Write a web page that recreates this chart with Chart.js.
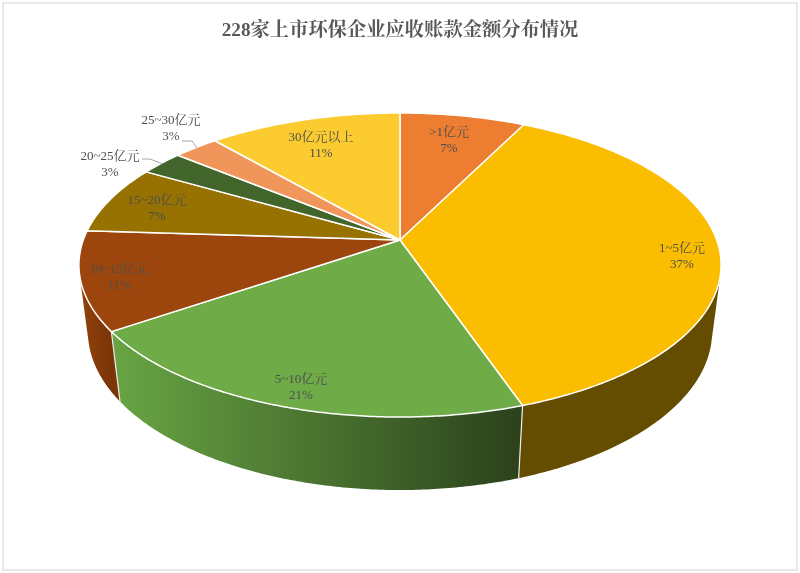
<!DOCTYPE html>
<html><head><meta charset="utf-8">
<style>html,body{margin:0;padding:0;background:#fff}canvas{display:block;filter:blur(0.45px)}</style>
<script src="https://cdn.jsdelivr.net/npm/chart.js@4"></script></head>
<body><canvas id="c" width="800" height="573"></canvas>
<script>
const chartTitle = '228家上市环保企业应收账款金额分布情况';
const categories = ['>1亿元','1~5亿元','5~10亿元','10~15亿元','15~20亿元','20~25亿元','25~30亿元','30亿元以上'];
const shares = [7.4,37.3,20.8,10.5,7.3,2.6,2.7,11.4];
const topColors = ['#ED7D31','#FBBD00','#6FAB46','#9C460D','#977200','#41652A','#F0965A','#FCCB30'];
const wallFrom = ['#8E4B1D','#644C00','#2B411B','#7B3507','#5C4500','#28401A','#90593A','#99791C'];
const wallTo   = ['#8E4B1D','#644C00','#68A544','#8C3F0B','#5C4500','#28401A','#90593A','#99791C'];
const labelFont = "13px 'Liberation Serif','Noto Serif CJK SC','Noto Sans CJK SC'";
const labelColor = '#4E4E4E';
// text placement (pixels) : [x, y of the first line]
const labelPlace = [[449,133],[682,249],[301,380],[119,270],[157,201],[110,157],[171,121],[321,138]];
const leaders = {5:[[142,159],[150,159],[163,164]],6:[[182,141],[192,141],[197,148]]};

// projection of the disk (perspective view of a round slab)
const view = {cx:400,cy:240,a:316.7,b:147.9,p:0.1645,q:0.028,c:68};
function project(angle,low){
  const u=Math.cos(angle),v=Math.sin(angle);
  const w=1-view.p*v+(low?view.q:0);
  return [view.cx+view.a*u/w, view.cy+(view.b*v+(low?view.c:0))/w];
}
function rim(ctx,s,e){
  const n=Math.max(2,Math.ceil(Math.abs(e-s)/0.01));
  for(let i=0;i<=n;i++){
    const P=project(s+(e-s)*i/n,false);
    ctx.lineTo(P[0],P[1]);
  }
}
function wallPath(ctx,s,e){
  const n=Math.max(2,Math.ceil(Math.abs(e-s)/0.01));
  for(let i=0;i<n;i++){
    const a0=s+(e-s)*i/n,a1=s+(e-s)*(i+1)/n;
    const q=[project(a0,false),project(a1,false),project(a1,true),project(a0,true)];
    let area=0;
    q.forEach((p,k)=>{const r=q[(k+1)%4];area+=p[0]*r[1]-r[0]*p[1];});
    if(area<0)q.reverse();
    q.forEach((p,k)=>k?ctx.lineTo(p[0],p[1]):ctx.moveTo(p[0],p[1]));
    ctx.closePath();
  }
}
Chart.ArcElement.prototype.draw=function(ctx){
  const o=this.options;
  ctx.save();
  ctx.beginPath();
  ctx.moveTo(view.cx,view.cy);
  rim(ctx,this.startAngle,this.endAngle);
  ctx.closePath();
  ctx.fillStyle=o.backgroundColor;
  ctx.fill();
  ctx.lineJoin='round';
  ctx.lineWidth=o.borderWidth;
  ctx.strokeStyle=o.borderColor;
  ctx.stroke();
  ctx.restore();
};
const slab={
  id:'slab',
  beforeDraw(chart){
    const ctx=chart.ctx;
    ctx.save();
    ctx.fillStyle='#fff';ctx.fillRect(0,0,chart.width,chart.height);
    ctx.strokeStyle='#E8E8E8';ctx.lineWidth=2;
    ctx.strokeRect(3,3,chart.width-6,chart.height-6);
    ctx.restore();
  },
  beforeDatasetsDraw(chart){
    const ctx=chart.ctx,arcs=chart.getDatasetMeta(0).data;
    ctx.save();
    arcs.forEach((arc,i)=>{
      const s=arc.startAngle,e=arc.endAngle;
      if(Math.sin(s)<-0.3&&Math.sin(e)<-0.3)return;
      const A=project(s,false),B=project(e,false);
      const g=ctx.createLinearGradient(A[0],0,B[0],0);
      g.addColorStop(0,wallFrom[i]);
      g.addColorStop(1,wallTo[i]);
      ctx.beginPath();
      wallPath(ctx,s,e);
      ctx.fillStyle=g;ctx.fill();
    });
    ctx.strokeStyle='#EDEDED';ctx.lineWidth=1.2;
    arcs.forEach(arc=>{
      const a=arc.startAngle;
      if(Math.sin(a)<0.2)return;
      const P=project(a,false),Q=project(a,true);
      ctx.beginPath();ctx.moveTo(P[0],P[1]);ctx.lineTo(Q[0],Q[1]);ctx.stroke();
    });
    ctx.restore();
  },
  afterDatasetsDraw(chart){
    const ctx=chart.ctx;
    ctx.save();
    ctx.strokeStyle='#A6A6A6';ctx.lineWidth=1;
    Object.values(leaders).forEach(pts=>{
      ctx.beginPath();pts.forEach((p,i)=>i?ctx.lineTo(p[0],p[1]):ctx.moveTo(p[0],p[1]));ctx.stroke();
    });
    ctx.font=labelFont;ctx.fillStyle=labelColor;ctx.textAlign='center';ctx.textBaseline='middle';
    const total=shares.reduce((x,y)=>x+y,0);
    categories.forEach((name,i)=>{
      const p=labelPlace[i];
      ctx.fillText(name,p[0],p[1]);
      ctx.fillText(Math.round(shares[i]/total*100)+'%',p[0],p[1]+16);
    });
    ctx.restore();
  }
};
new Chart(document.getElementById('c'),{
  type:'pie',
  data:{labels:categories,datasets:[{data:shares,backgroundColor:topColors,borderColor:'#FFFFFF',borderWidth:1.5}]},
  options:{
    responsive:false,animation:false,events:[],
    plugins:{
      legend:{display:false},tooltip:{enabled:false},
      title:{display:true,text:chartTitle,color:'#595959',padding:{top:19,bottom:0},
        font:{family:"'Liberation Serif','Noto Serif CJK SC','Noto Sans CJK SC'",size:19.3,weight:'bold'}}
    }
  },
  plugins:[slab]
});
</script></body></html>
